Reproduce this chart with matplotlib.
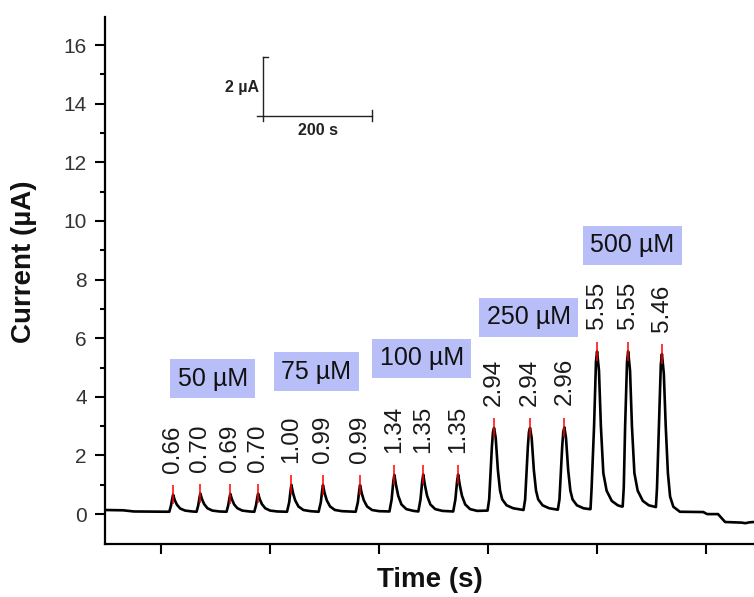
import matplotlib
matplotlib.use('Agg')
import matplotlib.pyplot as plt

plt.rcParams['font.family'] = ['Liberation Sans', 'DejaVu Sans']

# peak positions (s) and peak currents (uA)
peak_t = [222, 272, 327, 378, 439, 497, 565, 628, 681, 745, 811, 877, 940, 1000, 1057, 1119]
peak_i = [0.66, 0.70, 0.69, 0.70, 1.00, 0.99, 0.99, 1.34, 1.35, 1.35,
          2.94, 2.94, 2.96, 5.55, 5.55, 5.46]

# concentration boxes
conc_labels = ['50 µM', '75 µM', '100 µM', '250 µM', '500 µM']
conc_t = [295, 485, 678, 875, 1065]
conc_i = [4.61, 4.85, 5.32, 6.72, 9.18]

# amperometric trace, read point by point
trace_t = [97, 130, 150,
           215, 218, 220.5, 222, 225, 229, 235, 244, 257,
           265, 268, 270.5, 272, 275, 279, 285, 294, 307,
           320, 323, 325.5, 327, 330, 334, 340, 349, 362,
           371, 374, 376.5, 378, 381, 385, 391, 400, 413,
           431, 435, 437.5, 439, 442, 446, 452, 461, 474,
           489, 493, 495.5, 497, 500, 504, 510, 519, 532,
           557, 561, 563.5, 565, 568, 572, 578, 587, 600,
           619, 623, 626, 628, 631, 635, 641, 650, 663,
           672, 676, 679, 681, 684, 688, 694, 703, 716,
           736, 740, 743, 745, 748, 752, 758, 767, 780,
           799, 802, 805, 807, 809, 811, 814, 818, 822, 826, 834, 846, 858,
           865, 868, 871, 873, 875, 877, 880, 884, 888, 892, 900, 912, 924,
           928, 931, 934, 936, 938, 940, 943, 947, 951, 955, 963, 975, 986,
           988, 990, 994.5, 998, 1000, 1003.5, 1007, 1011.5, 1017.5, 1027, 1038, 1045,
           1047, 1049, 1051.5, 1055, 1057, 1060.5, 1064, 1068.5, 1074.5, 1084, 1095, 1106,
           1108, 1110, 1113.5, 1117, 1119, 1122.5, 1126, 1130, 1134, 1140, 1152,
           1195, 1202, 1222, 1235, 1265, 1272, 1280, 1288]
trace_i = [0.14, 0.13, 0.09,
           0.08, 0.28, 0.54, 0.66, 0.48, 0.32, 0.19, 0.12, 0.09,
           0.08, 0.29, 0.57, 0.70, 0.51, 0.34, 0.20, 0.12, 0.09,
           0.08, 0.29, 0.56, 0.69, 0.50, 0.33, 0.20, 0.12, 0.09,
           0.08, 0.29, 0.57, 0.70, 0.51, 0.34, 0.20, 0.12, 0.09,
           0.08, 0.40, 0.80, 1.00, 0.72, 0.47, 0.26, 0.14, 0.10,
           0.08, 0.40, 0.80, 0.99, 0.72, 0.47, 0.26, 0.14, 0.10,
           0.08, 0.40, 0.80, 0.99, 0.72, 0.47, 0.26, 0.14, 0.10,
           0.09, 0.50, 1.10, 1.34, 1.00, 0.63, 0.33, 0.17, 0.11,
           0.09, 0.50, 1.10, 1.35, 1.00, 0.63, 0.33, 0.17, 0.11,
           0.09, 0.50, 1.10, 1.35, 1.00, 0.63, 0.33, 0.17, 0.11,
           0.12, 0.50, 1.60, 2.30, 2.80, 2.94, 2.60, 1.50, 0.80, 0.50, 0.30, 0.20, 0.16,
           0.14, 0.50, 1.60, 2.30, 2.80, 2.94, 2.60, 1.50, 0.80, 0.50, 0.30, 0.20, 0.16,
           0.15, 0.50, 1.60, 2.30, 2.80, 2.96, 2.60, 1.50, 0.80, 0.50, 0.30, 0.20, 0.17,
           0.17, 0.90, 3.00, 5.20, 5.55, 4.90, 3.00, 1.40, 0.80, 0.45, 0.30, 0.26,
           0.26, 0.90, 3.00, 5.20, 5.55, 4.90, 3.00, 1.40, 0.80, 0.45, 0.30, 0.25,
           0.24, 0.90, 3.00, 5.10, 5.46, 4.80, 3.00, 1.40, 0.60, 0.25, 0.08,
           0.07, 0.00, 0.00, -0.27, -0.29, -0.31, -0.28, -0.27]

fig = plt.figure(figsize=(7.54, 5.97), dpi=100)
ax = fig.add_axes([105 / 754, 53 / 597, 649 / 754, 527 / 597])

ax.plot(trace_t, trace_i, color='black', lw=1.9, zorder=2)
ax.vlines(peak_t, [v - 0.33 for v in peak_i], [v + 0.33 for v in peak_i],
          color='red', lw=1.1, zorder=3)

for t, v in zip(peak_t, peak_i):
    ax.text(t, v + 0.75, f'{v:.2f}', rotation=90, ha='center', va='bottom',
            fontsize=17.5, color='#1a1a1a')

for lab, t, v in zip(conc_labels, conc_t, conc_i):
    ax.text(t, v, lab, ha='center', va='center', fontsize=18, color='#111111',
            bbox=dict(boxstyle='square,pad=0.3', fc='#b8bef7', ec='none'))

# scale bar
sb_t, sb_i, sb_w, sb_h = 387, 13.58, 200, 2
ax.plot([sb_t, sb_t], [sb_i, sb_i + sb_h], color='#222222', lw=1.0)
ax.plot([sb_t, sb_t + 9], [sb_i + sb_h, sb_i + sb_h], color='#222222', lw=1.0)
ax.plot([sb_t - 11, sb_t + sb_w], [sb_i, sb_i], color='#222222', lw=1.0)
ax.plot([sb_t, sb_t], [sb_i - 0.17, sb_i], color='#222222', lw=1.0)
ax.plot([sb_t + sb_w, sb_t + sb_w], [sb_i - 0.17, sb_i + 0.2], color='#222222', lw=1.0)
ax.text(sb_t - 8, sb_i + sb_h / 2 - 0.03, '2 µA', ha='right', va='center',
        fontsize=11.5, fontweight='bold', color='#222222')
ax.text(sb_t + sb_w / 2, sb_i - 0.5, '200 s', ha='center', va='center',
        fontsize=11.5, fontweight='bold', color='#222222')

ax.set_xlim(97, 1288)
ax.set_ylim(-1.02, 16.96)
ax.set_xticks([200, 400, 600, 800, 1000, 1200])
ax.set_xticklabels([])
ax.set_yticks(range(0, 17, 2))
ax.set_yticks(range(1, 17, 2), minor=True)
ax.tick_params(axis='both', which='major', direction='out', length=7, width=1.5,
               labelsize=15, labelcolor='#333333', pad=6)
ax.tick_params(axis='y', which='minor', direction='out', length=3.5, width=1.5)

for s in ['top', 'right']:
    ax.spines[s].set_visible(False)
for s in ['left', 'bottom']:
    ax.spines[s].set_linewidth(1.6)

ax.set_xlabel('Time (s)', fontsize=20, fontweight='bold', color='#111111')
ax.set_ylabel('Current (µA)', fontsize=20, fontweight='bold', color='#111111')
ax.xaxis.set_label_coords(0.5, -0.044)
ax.yaxis.set_label_coords(-0.105, 0.535)

fig.savefig('out.png', dpi=100)
